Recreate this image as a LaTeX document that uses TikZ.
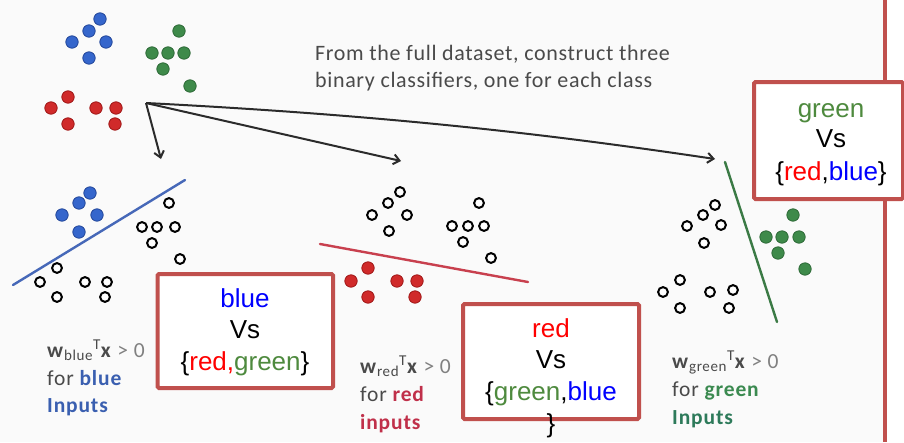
\documentclass[tikz,border=0pt]{standalone}
\usepackage{fontspec}
\setmainfont{Liberation Sans}
\newfontfamily\boxfont{Liberation Sans}
\newfontfamily\slidefont[LetterSpace=3]{Carlito}
\newfontfamily\labfont[LetterSpace=4]{Carlito}
\usetikzlibrary{arrows.meta}
\definecolor{boxred}{HTML}{C0504D}
\definecolor{bgray}{HTML}{FAFAFA}
\definecolor{txtred}{HTML}{FF0000}
\definecolor{txtblue}{HTML}{0000FF}
\definecolor{txtgreen}{HTML}{4E8A3E}
\definecolor{dotblue}{HTML}{3566CC}
\definecolor{dotblueo}{HTML}{23479A}
\definecolor{dotgreen}{HTML}{3E8A4A}
\definecolor{dotgreeno}{HTML}{2E6A38}
\definecolor{dotred}{HTML}{D02A2A}
\definecolor{dotredo}{HTML}{A01818}
\definecolor{lineblue}{HTML}{4668B8}
\definecolor{linered}{HTML}{C8404E}
\definecolor{linegreen}{HTML}{3B7A45}
\definecolor{arrowgray}{HTML}{2B2B2B}
\definecolor{slidegray}{HTML}{4A4A4A}
\definecolor{labgray}{HTML}{4A4A4A}
\definecolor{labblue}{HTML}{3A5FB0}
\definecolor{labred}{HTML}{C0304A}
\definecolor{labgreen}{HTML}{3B8A50}
\definecolor{labteal}{HTML}{2D7A5A}
\tikzset{
  vsbox/.style={draw=boxred, line width=4pt, fill=white, rounded corners=1.5pt, inner sep=0pt},
  boxtxt/.style={font=\boxfont\fontsize{26}{32}\selectfont, anchor=base, inner sep=0pt},
  slidetxt/.style={font=\slidefont\fontsize{22}{27}\selectfont, text=slidegray, anchor=base west, inner sep=0pt},
  labtxt/.style={font=\labfont\fontsize{21.5}{28}\selectfont, text=labgray, anchor=base west, inner sep=0pt},
  flow/.style={draw=arrowgray, line width=2pt, -{Straight Barb[length=6pt,width=10pt,line width=2pt]}},
  sepline/.style={line width=2.4pt, line cap=round},
  bdot/.style={fill=dotblue, draw=dotblueo, line width=0.8pt},
  gdot/.style={fill=dotgreen, draw=dotgreeno, line width=0.8pt},
  rdot/.style={fill=dotred, draw=dotredo, line width=0.8pt},
  odot/.style={fill=white, draw=black, line width=2pt},
}
\begin{document}
\begin{tikzpicture}[x=1pt,y=-1pt]
\useasboundingbox (0,0) rectangle (904,442);
\fill[bgray] (0,0) rectangle (885,442);
\fill[white] (885,0) rectangle (904,442);
\draw[boxred, line width=4pt] (885,0) -- (885,442);

% full dataset
\foreach \x/\y in {100/19,89/31,72/42,106/42,89/58} \path[bdot] (\x,\y) circle (6.2);
\foreach \x/\y in {179/31,152/53,168/53,184/53,163/69,190/86} \path[gdot] (\x,\y) circle (6.2);
\foreach \x/\y in {68/97,51/108,96/108,116/108,68/124,115/124} \path[rdot] (\x,\y) circle (6.2);

\node[slidetxt] (t1) at (315,60) {From the full dataset, construct three};
\node[slidetxt] (t2) at (315,87) {binary classifiers, one for each class};

% arrows
\coordinate (src) at (146,103);
\coordinate (tb) at (161,159);
\coordinate (tr) at (401,161);
\coordinate (tg) at (715,159);
\draw[flow] (src) -- (tb);
\draw[flow] (src) -- (tr);
\draw[flow] (src) .. controls (400,116) and (560,136) .. (tg);

% blue classifier
\coordinate (bl1) at (13,285);
\coordinate (bl2) at (185,180);
\draw[sepline, lineblue] (bl1) -- (bl2);
\foreach \x/\y in {90/193,79/203,62/215,97/215,79/232} \path[bdot] (\x,\y) circle (6.2);
\foreach \x/\y in {169/203,142/227,157/227,175/227,152/243,180/259,57/268,40/282,85/282,107/282,57/297,105/297} \path[odot] (\x,\y) circle (4.9);

% red classifier
\coordinate (rl1) at (320,244);
\coordinate (rl2) at (528,282);
\draw[sepline, linered] (rl1) -- (rl2);
\foreach \x/\y in {400/192,388/203,372/215,407/215,389/231,479/203,452/226,468/226,484/226,463/242,491/258} \path[odot] (\x,\y) circle (4.9);
\foreach \x/\y in {368/268,351/281,397/281,417/281,368/297,415/297} \path[rdot] (\x,\y) circle (6.2);

% green classifier
\coordinate (gl1) at (725,162);
\coordinate (gl2) at (777,322);
\draw[sepline, linegreen] (gl1) -- (gl2);
\foreach \x/\y in {715/205,703/215,687/226,721/225,704/243,680/280,663/292,710/292,733/290,680/308,729/308} \path[odot] (\x,\y) circle (4.9);
\foreach \x/\y in {793/215,766/237,782/237,799/237,778/253,805/269} \path[gdot] (\x,\y) circle (6.2);

% labels
\node[labtxt] (wb) at (47,357) {\textbf{w}\textsubscript{blue}\textsuperscript{T}\textbf{x} {\color{gray}> 0}};
\node[labtxt] (fb) at (47,385) {for \textcolor{labblue}{\bfseries blue}};
\node[labtxt, text=labblue] (ib) at (47,412) {\bfseries Inputs};

\node[labtxt] (wr) at (360,373) {\textbf{w}\textsubscript{red}\textsuperscript{T}\textbf{x} {\color{gray}> 0}};
\node[labtxt] (fr) at (360,401) {for \textcolor{labred}{\bfseries red}};
\node[labtxt, text=labred] (ir) at (360,429) {\bfseries inputs};

\node[labtxt] (wg) at (672,368) {\textbf{w}\textsubscript{green}\textsuperscript{T}\textbf{x} {\color{gray}> 0}};
\node[labtxt] (fg) at (672,396) {for \textcolor{labgreen}{\bfseries green}};
\node[labtxt, text=labteal] (ig) at (672,424) {\bfseries Inputs};

% boxes
\node[vsbox, minimum width=175.5pt, minimum height=114pt] (boxb) at (245.25,331) {};
\node[boxtxt, text=txtblue] (bb1) at (245,307) {blue};
\node[boxtxt] (bb2) at (245,338) {Vs};
\node[boxtxt] (bb3) at (245,370) {\{\textcolor{txtred}{red,}\textcolor{txtgreen}{green}\}};

\node[vsbox, minimum width=176pt, minimum height=115pt] (boxr) at (551,361.5) {};
\node[boxtxt, text=txtred] (rb1) at (551,337) {red};
\node[boxtxt] (rb2) at (551,368) {Vs};
\node[boxtxt] (rb3) at (551,400) {\{\textcolor{txtgreen}{green},\textcolor{txtblue}{blue}};
\node[boxtxt] (rb4) at (551,432) {\}};

\node[vsbox, minimum width=149pt, minimum height=117pt] (boxg) at (828.5,140.5) {};
\node[boxtxt, text=txtgreen] (gb1) at (831,117) {green};
\node[boxtxt] (gb2) at (831,147) {Vs};
\node[boxtxt] (gb3) at (831,180) {\{\textcolor{txtred}{red},\textcolor{txtblue}{blue}\}};
\end{tikzpicture}
\end{document}
